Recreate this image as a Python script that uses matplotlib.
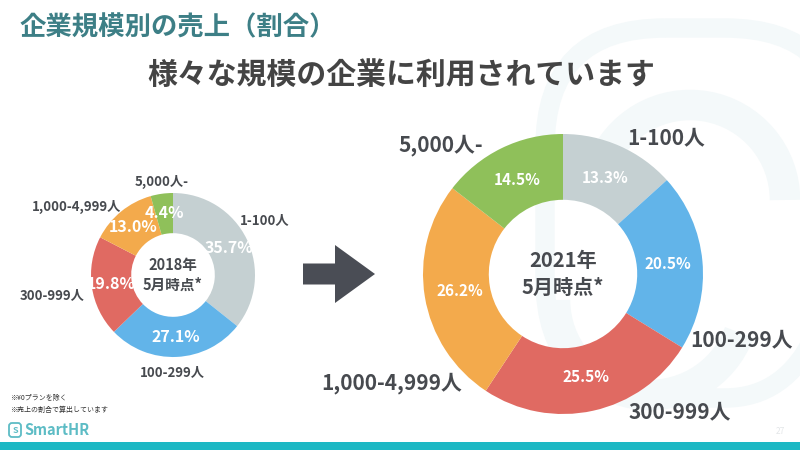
import matplotlib
matplotlib.use("Agg")
import matplotlib.pyplot as plt
from matplotlib.patches import FancyArrow, FancyBboxPatch, Rectangle, Arc

plt.rcParams['font.family'] = ['Noto Sans CJK JP', 'DejaVu Sans']

# ---------------- data ----------------
categories = ["1-100人", "100-299人", "300-999人", "1,000-4,999人", "5,000人-"]
share_2018 = [35.7, 27.1, 19.8, 13.0, 4.4]
share_2021 = [13.3, 20.5, 25.5, 26.2, 14.5]
center_2018 = "2018年\n5月時点*"
center_2021 = "2021年\n5月時点*"
title = "企業規模別の売上（割合）"
subtitle = "様々な規模の企業に利用されています"
notes = ["※¥0プランを除く", "※売上の割合で算出しています"]

# ---------------- style ----------------
colors = ["#c5d0d2", "#62b4e9", "#e06a62", "#f3aa4c", "#8fc05a"]
dark = "#474a4f"
teal = "#3d7f86"
wm = "#f4f9fa"

W, H = 800, 450
fig = plt.figure(figsize=(8, 4.5), dpi=100)
fig.patch.set_facecolor("white")

bg = fig.add_axes([0, 0, 1, 1])
bg.set_xlim(0, W)
bg.set_ylim(H, 0)
bg.axis("off")

# faint watermark logo
bg.add_patch(FancyBboxPatch((545, 28), 300, 370, boxstyle="round,pad=0,rounding_size=120",
                            facecolor="none", edgecolor=wm, linewidth=14, zorder=0))
bg.add_patch(Arc((690, 200), 190, 190, theta1=200, theta2=360, color=wm, lw=22, zorder=0))
bg.add_patch(Arc((650, 300), 190, 190, theta1=20, theta2=180, color=wm, lw=22, zorder=0))

# bottom bar
bg.add_patch(Rectangle((0, 442), W, 8, facecolor="#1cb8c4", edgecolor="none", zorder=1))
bg.text(785, 436, "27", ha="right", va="bottom", fontsize=6, color="#e3e6e8")

# titles
bg.text(20, 28, title, ha="left", va="center", fontsize=19, fontweight="bold", color=teal)
bg.text(401, 75, subtitle, ha="center", va="center", fontsize=21.5, fontweight="bold", color="#444444")

# arrow
bg.add_patch(FancyArrow(303, 274, 72, 0, width=21, head_width=58, head_length=40,
                        length_includes_head=True, facecolor="#4a4d55", edgecolor="none"))

# notes & logo
for i, n in enumerate(notes):
    bg.text(10, 398 + 12 * i, n, ha="left", va="center", fontsize=5, color="#333333")
bg.add_patch(FancyBboxPatch((9, 423), 12, 14, boxstyle="round,pad=0,rounding_size=3",
                            facecolor="none", edgecolor="#5dbcc5", linewidth=1.3))
bg.text(15, 430.5, "S", ha="center", va="center", fontsize=6.5, color="#5dbcc5", fontweight="bold")
bg.text(24, 430, "SmartHR", ha="left", va="center", fontsize=10.5, color="#5dbcc5", fontweight="bold")


def donut(cx, cy, r, values, hole, pct_size, pct_dist, center_text, center_size):
    ax = fig.add_axes([(cx - r) / W, (H - cy - r) / H, 2 * r / W, 2 * r / H])
    ax.pie(values, colors=colors, startangle=90, counterclock=False,
           wedgeprops=dict(width=1 - hole, edgecolor="none", linewidth=0),
           autopct=lambda p: f"{p:.1f}%", pctdistance=pct_dist,
           textprops=dict(color="white", fontsize=pct_size, fontweight="bold"))
    ax.set_xlim(-1, 1)
    ax.set_ylim(-1, 1)
    ax.set_aspect("equal")
    ax.axis("off")
    ax.text(0, 0, center_text, ha="center", va="center", fontsize=center_size,
            fontweight="bold", color=dark, linespacing=1.3)
    return ax


donut(173, 275, 82, share_2018, 0.51, 11.5, 0.76, center_2018, 10.5)
donut(563, 274, 140, share_2021, 0.53, 11, 0.75, center_2021, 14.5)

# category labels (layout positions)
small_pos = [(265, 220), (172, 372), (52, 295), (77, 207), (162, 182)]
big_pos = [(666, 138), (742, 340), (680, 412), (392, 383), (441, 145)]
for c, (x, y) in zip(categories, small_pos):
    bg.text(x, y, c, ha="center", va="center", fontsize=9.5, fontweight="bold", color=dark)
for c, (x, y) in zip(categories, big_pos):
    bg.text(x, y, c, ha="center", va="center", fontsize=15, fontweight="bold", color=dark)

fig.savefig("out.png", dpi=100, facecolor="white")
